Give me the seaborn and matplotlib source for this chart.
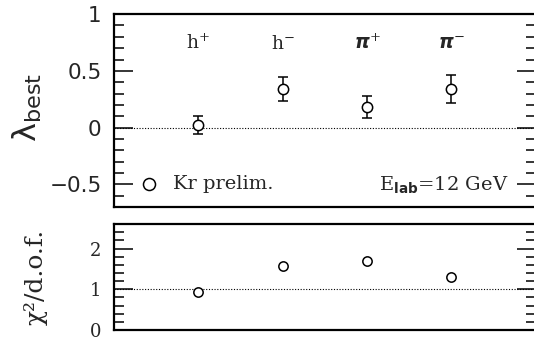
import numpy as np
import pandas as pd
import matplotlib
matplotlib.use('Agg')
import matplotlib.pyplot as plt
import seaborn as sns
from matplotlib.ticker import MultipleLocator, NullLocator

sns.set_style("ticks")
plt.rcParams['font.family'] = ['DejaVu Serif']
plt.rcParams['mathtext.fontset'] = 'custom'
plt.rcParams['mathtext.rm'] = 'DejaVu Serif'
plt.rcParams['mathtext.it'] = 'DejaVu Serif:italic'
plt.rcParams['mathtext.bf'] = 'DejaVu Sans:bold'
plt.rcParams['mathtext.bfit'] = 'DejaVu Sans:bold:italic'
plt.rcParams['mathtext.sf'] = 'DejaVu Sans'

# data
particles = ['h+', 'h-', 'pi+', 'pi-']
particle_labels = [r'$\mathrm{h}^{+}$', r'$\mathrm{h}^{-}$',
                   r'$\mathbfit{\pi}^{+}$', r'$\mathbfit{\pi}^{-}$']
x_pos = [1, 2, 3, 4]
lam_best = [0.02, 0.34, 0.18, 0.34]
lam_err = [0.08, 0.105, 0.095, 0.125]
chi2_dof = [0.94, 1.58, 1.70, 1.30]

df = pd.DataFrame({'particle': particles, 'x': x_pos, 'lam': lam_best,
                   'err': lam_err, 'chi2': chi2_dof})

fig = plt.figure(figsize=(5.34, 3.37), dpi=100)
ax1 = fig.add_axes([0.2135, 0.386, 0.79, 0.572])
ax2 = fig.add_axes([0.2135, 0.021, 0.79, 0.314])

# ---- top panel: lambda_best
ax1.axhline(0, color='black', lw=0.8, ls=(0, (1, 1.5)), zorder=1)
ax1.errorbar(df['x'], df['lam'], yerr=df['err'], fmt='none', ecolor='black',
             elinewidth=1.1, capsize=3.5, capthick=1.1, zorder=2)
sns.scatterplot(data=df, x='x', y='lam', ax=ax1, s=55, marker='o',
                facecolor='white', edgecolor='black', linewidth=1.1, zorder=3)
for xp, lab in zip(df['x'], particle_labels):
    ax1.text(xp, 0.74, lab, ha='center', va='center', fontsize=13.5)

sns.scatterplot(x=[0.42], y=[-0.5], ax=ax1, s=75, marker='o',
                facecolor='white', edgecolor='black', linewidth=1.1)
ax1.text(0.70, -0.5, 'Kr prelim.', ha='left', va='center', fontsize=14)
ax1.text(4.67, -0.5, r'$\mathrm{E}_{\mathbf{lab}}$=12 GeV', ha='right', va='center',
         fontsize=14)

ax1.set_xlim(0, 5)
ax1.set_ylim(-0.7, 1)
ax1.yaxis.set_minor_locator(MultipleLocator(0.1))
ax1.set_yticks([-0.5, 0, 0.5, 1])
ax1.set_yticklabels(['\u22120.5', '0', '0.5', '1'], fontsize=15.5, family='DejaVu Sans')
ax1.set_xlabel('')
ax1.set_ylabel('')

# ---- bottom panel: chi2/dof
ax2.axhline(1, color='black', lw=0.8, ls=(0, (1, 1.5)), zorder=1)
sns.scatterplot(data=df, x='x', y='chi2', ax=ax2, s=45, marker='o',
                facecolor='white', edgecolor='black', linewidth=1.1, zorder=3)
ax2.set_xlim(0, 5)
ax2.set_ylim(0, 2.6)
ax2.yaxis.set_minor_locator(MultipleLocator(0.2))
ax2.set_yticks([0, 1, 2])
ax2.set_yticklabels(['0', '1', '2'], fontsize=13)
ax2.set_xlabel('')
ax2.set_ylabel('')

for ax in (ax1, ax2):
    ax.xaxis.set_major_locator(NullLocator())
    ax.xaxis.set_minor_locator(NullLocator())
    ax.tick_params(axis='y', which='both', direction='in', left=True, right=True,
                   width=1.1, color='black', pad=9)
    ax.tick_params(axis='y', which='major', length=14)
    ax.tick_params(axis='y', which='minor', length=7)
    for sp in ax.spines.values():
        sp.set_visible(True)
        sp.set_linewidth(1.6)
        sp.set_color('black')

fig.text(0.052, 0.68, r'$\mathsf{\lambda}_{\mathsf{best}}$', rotation=90, ha='center',
         va='center', fontsize=23)
fig.text(0.067, 0.178, '\u03c7\u00b2/d.o.f.', rotation=90, ha='center',
         va='center', fontsize=18)

fig.savefig('out.png', dpi=100)
